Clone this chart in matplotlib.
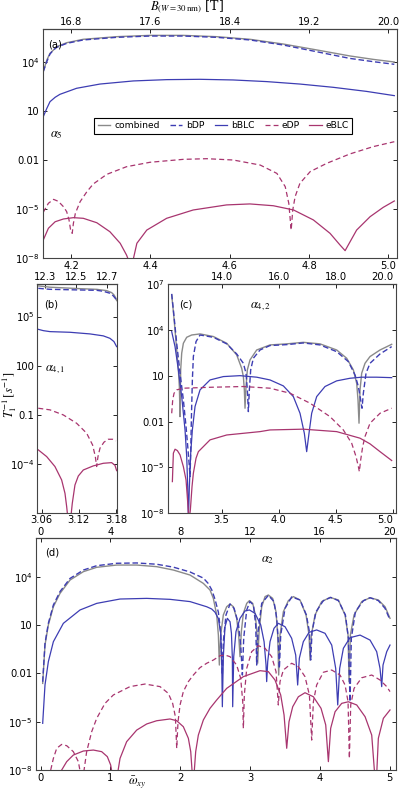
import matplotlib
matplotlib.use("Agg")
import matplotlib.pyplot as plt
import numpy as np
from matplotlib.ticker import NullLocator

# curves: (omega, log10 of 1/T1) read off the reference
# ---------- panel (a), alpha_5 ----------
A_COMB = [(4.130, 3.43), (4.139, 4.14), (4.147, 4.55), (4.156, 4.76), (4.164, 4.96), (4.189, 5.20),
          (4.231, 5.41), (4.315, 5.57), (4.399, 5.65), (4.483, 5.65), (4.567, 5.57), (4.651, 5.41),
          (4.735, 5.12), (4.819, 4.76), (4.903, 4.39), (4.962, 4.18), (5.015, 4.02)]
A_BDP = [(4.130, 3.43), (4.139, 4.04), (4.147, 4.51), (4.156, 4.76), (4.164, 4.92), (4.189, 5.16),
         (4.231, 5.37), (4.315, 5.53), (4.399, 5.61), (4.483, 5.61), (4.567, 5.53), (4.651, 5.37),
         (4.735, 5.06), (4.819, 4.65), (4.903, 4.24), (4.962, 4.04), (5.015, 3.88)]
A_BBLC = [(4.130, 0.67), (4.139, 1.18), (4.147, 1.59), (4.160, 1.86), (4.172, 2.04), (4.214, 2.41),
          (4.273, 2.67), (4.357, 2.86), (4.441, 2.94), (4.525, 2.96), (4.609, 2.92), (4.693, 2.82),
          (4.777, 2.67), (4.861, 2.47), (4.945, 2.22), (5.015, 1.96)]
A_EDP = [(4.130, -5.18), (4.143, -4.63), (4.156, -4.39), (4.168, -4.51), (4.181, -4.84), (4.189, -5.14),
         (4.195, -5.65), (4.199, -6.27), (4.203, -6.47), (4.206, -5.86), (4.211, -5.24), (4.223, -4.53),
         (4.240, -3.92), (4.256, -3.45), (4.290, -2.86), (4.340, -2.39), (4.399, -2.12), (4.483, -1.94),
         (4.542, -1.90), (4.609, -1.98), (4.677, -2.29), (4.719, -2.80), (4.740, -3.61), (4.749, -4.63),
         (4.755, -6.27), (4.759, -5.04), (4.765, -4.22), (4.777, -3.41), (4.803, -2.69), (4.845, -2.18),
         (4.903, -1.61), (4.962, -1.16), (5.015, -0.86)]
A_EBLC = [(4.130, -6.88), (4.143, -6.16), (4.160, -5.76), (4.181, -5.59), (4.206, -5.51), (4.231, -5.55),
          (4.265, -5.82), (4.298, -6.37), (4.324, -7.08), (4.340, -7.80), (4.344, -8.05), (4.350, -9.0),
          (4.357, -8.05), (4.366, -7.08), (4.391, -6.27), (4.441, -5.55), (4.508, -5.04), (4.592, -4.73),
          (4.651, -4.67), (4.710, -4.78), (4.761, -5.04), (4.811, -5.65), (4.853, -6.47), (4.878, -7.18),
          (4.891, -7.53), (4.899, -7.18), (4.920, -6.27), (4.954, -5.45), (4.987, -4.88), (5.015, -4.49)]

# ---------- panel (b), alpha_4,1 ----------
B_COMB = [(3.0546, 6.88), (3.0735, 6.80), (3.095, 6.76), (3.1219, 6.71), (3.1488, 6.67), (3.165, 6.59),
          (3.173, 6.47), (3.1768, 6.33), (3.180, 6.12), (3.1811, 5.98)]
B_BDP = [(3.0546, 6.73), (3.0735, 6.67), (3.1219, 6.63), (3.1488, 6.61), (3.1596, 6.55), (3.1703, 6.43),
         (3.1757, 6.27), (3.1789, 6.12), (3.1811, 5.98)]
B_BBLC = [(3.0546, 4.22), (3.0627, 4.14), (3.0735, 4.08), (3.1057, 4.04), (3.138, 3.94), (3.1596, 3.82),
          (3.1703, 3.67), (3.1768, 3.47), (3.1811, 3.16)]
B_EDP = [(3.0546, -0.61), (3.0735, -0.71), (3.095, -1.02), (3.1165, -1.53), (3.1327, -2.14),
         (3.1423, -2.86), (3.1467, -3.57), (3.1488, -4.18), (3.151, -3.57), (3.1542, -3.06),
         (3.1606, -2.69), (3.1676, -2.51), (3.1746, -2.51), (3.180, -2.61)]
B_EBLC = [(3.0546, -3.16), (3.0681, -3.57), (3.0815, -4.18), (3.0923, -5.0), (3.0977, -5.82),
          (3.1004, -6.63), (3.102, -7.2), (3.1047, -8.3), (3.1074, -7.2), (3.1095, -6.43), (3.1138, -5.31),
          (3.1192, -4.76), (3.1273, -4.39), (3.1434, -4.14), (3.1596, -3.98), (3.173, -3.94),
          (3.1784, -4.10), (3.1811, -4.43)]

# ---------- panel (c), alpha_4,2 ----------
C_COMB = [(3.064, 6.28), (3.0786, 5.19), (3.0932, 3.99), (3.1078, 2.68), (3.1223, 1.38), (3.131, 0.29),
          (3.1369, -1.68), (3.1427, 1.38), (3.1515, 2.47), (3.1661, 3.12), (3.1953, 3.51), (3.239, 3.66),
          (3.3119, 3.73), (3.4286, 3.56), (3.5452, 3.12), (3.6327, 2.36), (3.6764, 1.48), (3.691, 0.94),
          (3.6997, 0.07), (3.7056, -1.13), (3.7143, 0.29), (3.726, 1.38), (3.7493, 2.03), (3.8077, 2.68),
          (3.9243, 3.01), (4.0701, 3.08), (4.216, 3.18), (4.3618, 3.08), (4.5076, 2.68), (4.5951, 2.14),
          (4.6535, 1.38), (4.6827, 0.50), (4.6943, -0.59), (4.7031, -2.11), (4.7119, 0.07), (4.7265, 1.16),
          (4.7556, 1.81), (4.7994, 2.25), (4.8869, 2.68), (4.9889, 3.05)]
C_BDP = [(3.064, 6.35), (3.0786, 5.30), (3.0932, 4.21), (3.1078, 3.12), (3.1223, 2.14), (3.1369, 1.16),
         (3.1661, -0.59), (3.1894, -2.33), (3.2069, -3.86), (3.2186, -4.95), (3.2244, -5.6), (3.2303, -4.07),
         (3.2361, -1.89), (3.2448, 0.72), (3.2536, 2.25), (3.2769, 3.23), (3.3119, 3.66), (3.4286, 3.51),
         (3.5452, 3.08), (3.6327, 2.42), (3.691, 1.81), (3.7143, 1.16), (3.726, 0.07), (3.7348, -1.35),
         (3.7435, 0.07), (3.7552, 1.38), (3.7785, 2.14), (3.8368, 2.68), (3.9243, 2.97), (4.0701, 3.03),
         (4.216, 3.14), (4.3618, 3.01), (4.5076, 2.57), (4.6097, 1.92), (4.6681, 1.05), (4.6973, 0.29),
         (4.7177, -0.59), (4.7294, -1.13), (4.741, -0.15), (4.7644, 1.16), (4.7994, 1.81), (4.8869, 2.42),
         (4.9889, 2.90)]
C_BBLC = [(3.064, 3.88), (3.0932, 2.90), (3.1223, 1.38), (3.1515, -0.37), (3.1807, -2.55), (3.1953, -4.29),
          (3.204, -6.25), (3.2098, -8.5), (3.2186, -6.25), (3.2303, -4.07), (3.2448, -2.55), (3.2682, -1.02),
          (3.3119, 0.07), (3.3994, 0.72), (3.516, 0.94), (3.6618, 1.0), (3.8077, 0.90), (3.9243, 0.72),
          (4.041, 0.33), (4.1285, -0.37), (4.1868, -1.46), (4.2247, -2.77), (4.2451, -3.97), (4.2655, -2.77),
          (4.2889, -1.46), (4.3326, -0.37), (4.4055, 0.29), (4.5076, 0.66), (4.6243, 0.83), (4.7265, 0.90),
          (4.8577, 0.90), (4.9889, 0.87)]
C_EDP = [(3.064, -1.46), (3.0728, -0.59), (3.0845, -0.15), (3.1078, 0.07), (3.1661, 0.18), (3.3994, 0.24),
         (3.691, 0.29), (3.9243, 0.18), (4.0993, -0.15), (4.2743, -0.80), (4.4493, -1.68), (4.5659, -2.55),
         (4.6389, -3.42), (4.6768, -4.29), (4.6973, -4.95), (4.706, -5.27), (4.7177, -4.51), (4.7352, -3.64),
         (4.7556, -2.98), (4.7994, -2.11), (4.8869, -1.46), (4.9889, -1.13)]
C_EBLC = [(3.0699, -5.93), (3.0786, -4.07), (3.0932, -3.81), (3.1136, -3.90), (3.1369, -4.18),
          (3.1661, -4.95), (3.1894, -5.82), (3.2069, -7.56), (3.2157, -8.5), (3.2273, -7.78), (3.2419, -6.25),
          (3.2536, -5.38), (3.2769, -4.40), (3.2974, -3.97), (3.3994, -3.20), (3.5452, -2.88), (3.8368, -2.66),
          (3.9243, -2.55), (4.216, -2.50), (4.5076, -2.66), (4.7119, -3.09), (4.7994, -3.46), (4.8869, -3.97),
          (4.9889, -4.55)]

# ---------- panel (d), alpha_2 ----------
D_COMB = [(0.031, -2.62), (0.064, -0.24), (0.112, 1.01), (0.184, 2.14), (0.279, 2.97), (0.423, 3.80),
          (0.614, 4.32), (0.805, 4.59), (1.091, 4.73), (1.378, 4.73), (1.664, 4.63), (1.903, 4.42),
          (2.142, 4.11), (2.333, 3.59), (2.428, 3.18), (2.476, 2.66), (2.524, 1.63), (2.548, 0.38),
          (2.562, -1.48), (2.581, 0.38), (2.619, 1.63), (2.667, 2.14), (2.715, 2.31), (2.763, 2.14),
          (2.810, 1.42), (2.839, 0.38), (2.858, -0.96), (2.877, 0.59), (2.906, 1.73), (2.954, 2.35),
          (2.993, 2.52), (3.040, 2.35), (3.078, 1.63), (3.102, 0.38), (3.111, -1.37), (3.131, 0.59),
          (3.169, 2.14), (3.217, 2.77), (3.264, 2.87), (3.326, 2.66), (3.374, 1.83), (3.398, 0.38),
          (3.412, -2.10), (3.431, 0.38), (3.479, 1.83), (3.551, 2.52), (3.622, 2.77), (3.718, 2.56),
          (3.804, 1.63), (3.847, 0.38), (3.861, -1.17), (3.880, 0.38), (3.933, 1.63), (4.028, 2.46),
          (4.148, 2.72), (4.267, 2.56), (4.363, 1.63), (4.406, 0.38), (4.420, -2.51), (4.439, 0.38),
          (4.492, 1.63), (4.602, 2.46), (4.721, 2.70), (4.840, 2.56), (4.936, 2.14), (5.007, 1.42)]
D_BDP = [(0.031, -2.52), (0.064, -0.14), (0.112, 1.11), (0.184, 2.25), (0.279, 3.08), (0.423, 3.90),
         (0.614, 4.42), (0.805, 4.69), (1.091, 4.84), (1.378, 4.86), (1.664, 4.78), (1.903, 4.60),
         (2.142, 4.30), (2.333, 3.92), (2.400, 3.60), (2.452, 3.20), (2.500, 2.60), (2.548, 1.80),
         (2.580, 0.60), (2.605, -2.10), (2.619, -0.03), (2.657, 1.63), (2.715, 2.31), (2.773, 2.04),
         (2.834, 1.11), (2.868, -0.24), (2.892, -2.10), (2.911, 0.18), (2.954, 1.94), (3.000, 2.46),
         (3.050, 2.25), (3.083, 1.01), (3.097, -1.48), (3.116, 0.59), (3.169, 2.35), (3.264, 2.85),
         (3.345, 2.46), (3.384, 1.42), (3.407, -0.03), (3.422, -1.69), (3.441, 0.38), (3.503, 2.04),
         (3.598, 2.75), (3.718, 2.56), (3.809, 1.63), (3.852, 0.59), (3.871, -1.17), (3.890, 0.59),
         (3.947, 1.83), (4.052, 2.52), (4.158, 2.72), (4.267, 2.52), (4.368, 1.63), (4.411, 0.18),
         (4.434, -3.76), (4.453, 0.18), (4.511, 1.83), (4.626, 2.52), (4.721, 2.70), (4.840, 2.52),
         (4.936, 2.04), (5.007, 1.32)]
D_BBLC = [(0.031, -5.10), (0.064, -2.72), (0.112, -1.27), (0.184, -0.03), (0.327, 1.11), (0.566, 1.94),
          (0.805, 2.35), (1.139, 2.62), (1.521, 2.66), (1.855, 2.60), (2.142, 2.46), (2.381, 2.14),
          (2.452, 2.00), (2.500, 1.80), (2.548, 1.40), (2.581, 0.50), (2.595, -1.00), (2.605, -4.07),
          (2.619, -0.96), (2.643, 0.90), (2.677, 1.42), (2.715, 1.21), (2.735, 0.50), (2.748, -1.00),
          (2.753, -4.07), (2.768, -0.96), (2.800, 0.59), (2.858, 1.42), (2.930, 1.88), (2.993, 1.94),
          (3.073, 1.73), (3.155, 1.01), (3.203, -0.03), (3.231, -1.48), (3.240, -2.51), (3.255, -1.27),
          (3.288, -0.03), (3.345, 0.80), (3.407, 1.11), (3.503, 0.90), (3.598, 0.18), (3.656, -0.86),
          (3.684, -2.72), (3.708, -1.06), (3.765, -0.03), (3.847, 0.55), (3.956, 0.70), (4.076, 0.49),
          (4.172, -0.24), (4.229, -1.69), (4.258, -3.96), (4.286, -1.69), (4.339, -0.44), (4.434, 0.22),
          (4.578, 0.38), (4.721, 0.07), (4.816, -0.65), (4.864, -1.69), (4.888, -2.82), (4.907, -1.48),
          (4.960, -0.65), (5.007, -0.24)]
D_EDP = [(0.146, -8.0), (0.184, -7.28), (0.232, -6.65), (0.303, -6.41), (0.375, -6.49), (0.470, -6.86),
         (0.542, -7.48), (0.576, -8.3), (0.614, -8.3), (0.661, -6.86), (0.733, -5.62), (0.805, -4.79),
         (0.924, -3.86), (1.043, -3.34), (1.282, -2.82), (1.497, -2.66), (1.712, -2.82), (1.831, -3.24),
         (1.893, -3.86), (1.932, -4.69), (1.951, -6.65), (1.970, -5.00), (1.999, -3.96), (2.046, -3.13),
         (2.118, -2.51), (2.190, -2.10), (2.285, -1.64), (2.381, -1.37), (2.476, -1.17), (2.572, -0.90),
         (2.643, -0.86), (2.715, -0.96), (2.810, -1.48), (2.868, -2.31), (2.897, -3.76), (2.906, -5.41),
         (2.920, -3.34), (2.954, -1.69), (3.025, -0.65), (3.121, -0.28), (3.217, -0.44), (3.312, -0.96),
         (3.374, -1.89), (3.407, -3.96), (3.431, -2.51), (3.479, -1.79), (3.598, -1.37), (3.694, -1.58),
         (3.789, -2.20), (3.852, -3.34), (3.885, -6.14), (3.909, -3.76), (3.956, -2.72), (4.052, -1.93),
         (4.172, -1.79), (4.291, -2.10), (4.363, -2.72), (4.406, -3.76), (4.425, -7.28), (4.444, -3.96),
         (4.492, -2.93), (4.602, -2.27), (4.745, -2.10), (4.864, -2.41), (4.960, -2.82), (5.007, -3.13)]
D_EBLC = [(0.303, -8.0), (0.375, -7.48), (0.470, -7.07), (0.614, -6.82), (0.757, -6.76), (0.876, -6.86),
          (0.957, -7.17), (1.005, -7.69), (1.029, -8.3), (1.101, -8.3), (1.139, -7.28), (1.234, -6.24),
          (1.378, -5.52), (1.521, -5.14), (1.664, -4.94), (1.855, -4.83), (1.951, -4.94), (2.046, -5.31),
          (2.118, -6.03), (2.152, -6.86), (2.175, -8.3), (2.199, -8.3), (2.223, -6.86), (2.261, -5.83),
          (2.333, -4.89), (2.428, -4.17), (2.524, -3.65), (2.667, -2.93), (2.906, -2.20), (3.145, -1.83),
          (3.264, -1.89), (3.359, -2.41), (3.441, -3.34), (3.489, -4.58), (3.527, -6.65), (3.560, -5.00),
          (3.613, -4.07), (3.694, -3.45), (3.789, -3.20), (3.909, -3.45), (4.019, -4.17), (4.086, -5.20),
          (4.124, -7.48), (4.157, -5.41), (4.220, -4.38), (4.315, -3.86), (4.411, -3.76), (4.530, -3.96),
          (4.650, -4.69), (4.745, -5.83), (4.788, -8.3), (4.816, -8.3), (4.840, -6.03), (4.912, -4.79),
          (5.007, -4.27)]

SERIES = ["combined", "bDP", "bBLC", "eDP", "eBLC"]

# axis ticks and labels
A_XTICKS = [4.2, 4.4, 4.6, 4.8, 5.0]
A_BTICKS = [16.8, 17.6, 18.4, 19.2, 20.0]
A_YTICKS = [1e4, 10, 0.01, 1e-5, 1e-8]
A_YLABELS = ["$10^4$", "10", "0.01", "$10^{-5}$", "$10^{-8}$"]
B_XTICKS = [3.06, 3.12, 3.18]
B_BTICKS = [12.3, 12.5, 12.7]
B_YTICKS = [1e5, 100, 0.1, 1e-4]
B_YLABELS = ["$10^5$", "100", "0.1", "$10^{-4}$"]
C_XTICKS = [3.5, 4.0, 4.5, 5.0]
C_BTICKS = [14.0, 16.0, 18.0, 20.0]
C_YTICKS = [1e7, 1e4, 10, 0.01, 1e-5, 1e-8]
C_YLABELS = ["$10^7$", "$10^4$", "10", "0.01", "$10^{-5}$", "$10^{-8}$"]
D_XTICKS = [0, 1, 2, 3, 4, 5]
D_BTICKS = [0, 4, 8, 12, 16, 20]
D_YTICKS = [1e4, 10, 0.01, 1e-5, 1e-8]
D_YLABELS = ["$10^4$", "10", "0.01", "$10^{-5}$", "$10^{-8}$"]

GRAY = "#8a8a8a"
BLUE = "#3d3db3"
MAGENTA = "#a8356f"
STYLES = {
    "combined": dict(color=GRAY, lw=1.0, ls="-"),
    "bDP": dict(color=BLUE, lw=1.0, ls=(0, (4, 2))),
    "bBLC": dict(color=BLUE, lw=0.9, ls="-"),
    "eDP": dict(color=MAGENTA, lw=0.9, ls=(0, (4, 2.5))),
    "eBLC": dict(color=MAGENTA, lw=0.9, ls="-"),
}

FS = 7.2


def draw_curves(ax, curves):
    for name, pts in zip(SERIES, curves):
        w, logt = np.array(pts).T
        ax.plot(w, 10.0 ** logt, label=name, **STYLES[name])


def style_axes(ax, xlim, ylim, xticks, yticks, ylabels, xfmt, xpad=2):
    ax.set_yscale("log")
    ax.set_xlim(*xlim)
    ax.set_ylim(*ylim)
    ax.set_xticks(xticks)
    ax.set_xticklabels([xfmt % v for v in xticks])
    ax.set_yticks(yticks)
    ax.set_yticklabels(ylabels)
    ax.yaxis.set_minor_locator(NullLocator())
    ax.tick_params(direction="in", length=3, width=0.6, labelsize=FS, pad=2,
                   right=True, top=False)
    ax.tick_params(axis="x", pad=xpad)
    for sp in ax.spines.values():
        sp.set_linewidth(0.8)
        sp.set_color("#444444")


def top_axis(ax, ticks, fmt, factor=4.0, offset=0.0, pad=1.5):
    sec = ax.secondary_xaxis("top", functions=(lambda w: factor * w + offset,
                                               lambda b: (b - offset) / factor))
    sec.set_xticks(ticks)
    sec.set_xticklabels([fmt % v for v in ticks])
    sec.tick_params(direction="in", length=3, width=0.6, labelsize=FS, pad=pad)
    return sec


fig = plt.figure(figsize=(3.99, 7.90), dpi=100)
fig.patch.set_facecolor("white")

# (a)
ax_a = fig.add_axes([0.107, 0.673, 0.8872, 0.2899])
draw_curves(ax_a, [A_COMB, A_BDP, A_BBLC, A_EDP, A_EBLC])
style_axes(ax_a, (4.1286, 5.021), (1e-8, 1.05e6), A_XTICKS, A_YTICKS, A_YLABELS, "%.1f")
top_axis(ax_a, A_BTICKS, "%.1f")
ax_a.text(0.015, 0.955, "(a)", transform=ax_a.transAxes, fontsize=FS, va="top")
ax_a.text(0.02, 0.53, r"$\alpha_5$", transform=ax_a.transAxes, fontsize=9, math_fontfamily="stix")
leg = ax_a.legend(loc="upper left", bbox_to_anchor=(0.133, 0.632), ncol=5, fontsize=6.6,
                  handlelength=1.4, handletextpad=0.4, columnspacing=1.1, borderpad=0.35,
                  fancybox=False, framealpha=1)
leg.get_frame().set_edgecolor("black")
leg.get_frame().set_linewidth(0.8)

# (b)
ax_b = fig.add_axes([0.0935, 0.3503, 0.2005, 0.2903])
draw_curves(ax_b, [B_COMB, B_BDP, B_BBLC, B_EDP, B_EBLC])
style_axes(ax_b, (3.053, 3.1822), (10 ** -7.04, 1e7), B_XTICKS, B_YTICKS, B_YLABELS, "%.2f", xpad=1)
top_axis(ax_b, B_BTICKS, "%.1f", offset=0.04)
ax_b.text(0.08, 0.93, "(b)", transform=ax_b.transAxes, fontsize=FS, va="top")
ax_b.text(0.1, 0.62, r"$\alpha_{4,1}$", transform=ax_b.transAxes, fontsize=9, math_fontfamily="stix")

# (c)
ax_c = fig.add_axes([0.4203, 0.3503, 0.5714, 0.2903])
draw_curves(ax_c, [C_COMB, C_BDP, C_BBLC, C_EDP, C_EBLC])
style_axes(ax_c, (3.029, 5.024), (1e-8, 1e7), C_XTICKS, C_YTICKS, C_YLABELS, "%.1f", xpad=1)
sec_c = top_axis(ax_c, C_BTICKS, "%.1f")
# keep the right-most labels inside the figure edge
ax_c.get_xticklabels()[-1].set_ha("right")
sec_c.get_xticklabels()[-1].set_ha("right")
ax_c.text(0.05, 0.93, "(c)", transform=ax_c.transAxes, fontsize=FS, va="top")
ax_c.text(0.36, 0.93, r"$\alpha_{4,2}$", transform=ax_c.transAxes, fontsize=9, va="top",
          math_fontfamily="stix")

# (d)
ax_d = fig.add_axes([0.0895, 0.0253, 0.903, 0.2943])
draw_curves(ax_d, [D_COMB, D_BDP, D_BBLC, D_EDP, D_EBLC])
style_axes(ax_d, (-0.069, 5.093), (1e-8, 10 ** 6.44), D_XTICKS, D_YTICKS, D_YLABELS, "%d")
top_axis(ax_d, D_BTICKS, "%d", pad=0.5)
ax_d.text(0.025, 0.955, "(d)", transform=ax_d.transAxes, fontsize=FS, va="top")
ax_d.text(0.625, 0.935, r"$\alpha_2$", transform=ax_d.transAxes, fontsize=9, va="top",
          math_fontfamily="stix")

fig.text(187 / 399, 1 - 7 / 790, r"$B_{(W=30\,\mathrm{nm})}$ [T]", ha="center", va="center",
         fontsize=9, family="serif", math_fontfamily="stix")
fig.text(10 / 399, 395 / 790, r"$T_1^{-1}\,[s^{-1}]$", rotation=90, ha="center", va="center",
         fontsize=9, math_fontfamily="stix")
fig.text(137 / 399, 1 - 782 / 790, r"$\bar{\omega}_{xy}$", ha="center", va="center",
         fontsize=9, math_fontfamily="stix")

fig.savefig("out.png", dpi=100)
